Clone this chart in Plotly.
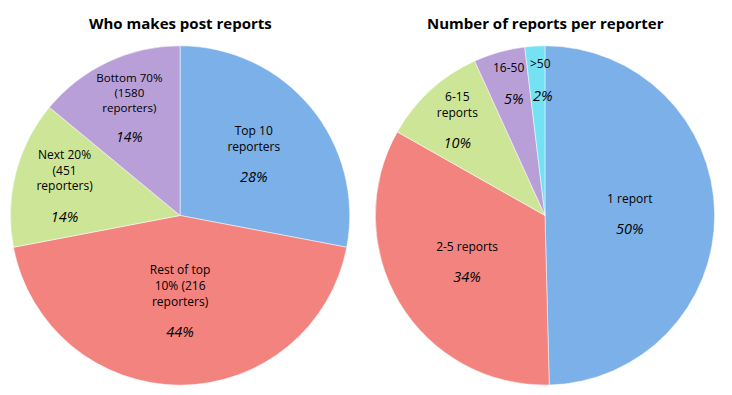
import plotly.graph_objects as go

# Left pie: who makes post reports
left_labels = ["Top 10<br>reporters", "Rest of top<br>10% (216<br>reporters)",
               "Next 20%<br>(451<br>reporters)", "Bottom 70%<br>(1580<br>reporters)"]
left_values = [28, 44, 14, 14]
left_pct = ["28%", "44%", "14%", "14%"]
left_colors = ["#7cb0e8", "#f2837f", "#cde597", "#b99fd7"]

# Right pie: number of reports per reporter
right_labels = ["1 report", "2-5 reports", "6-15<br>reports", "16-50", ">50"]
right_values = [49.6, 33.6, 10.0, 4.9, 1.9]
right_pct = ["50%", "34%", "10%", "5%", "2%"]
right_colors = ["#7cb0e8", "#f2837f", "#cde597", "#b99fd7", "#74e2f2"]
# slices too thin for Plotly's inside text: labelled with annotations instead
right_small = [False, False, False, True, True]

titles = ["Who makes post reports", "Number of reports per reporter"]

label_font = "Open Sans, DejaVu Sans, sans-serif"
pct_style = "font-size:14.5px"


def make_text(labels, pcts):
    return [f"{l}<br><br><i><span style='{pct_style}'>{p}</span></i>" for l, p in zip(labels, pcts)]


fig = go.Figure()
fig.add_trace(go.Pie(
    labels=left_labels, values=left_values, text=make_text(left_labels, left_pct),
    texttemplate="%{text}", textposition="inside", insidetextorientation="horizontal",
    sort=False, direction="clockwise", rotation=0,
    marker=dict(colors=left_colors, line=dict(color="white", width=0.5)),
    textfont=dict(family=label_font, size=12, color="black"),
    domain=dict(x=[0.012, 0.480], y=[0.025, 0.884]),
    showlegend=False, hoverinfo="label+percent",
))
right_text = make_text(right_labels, right_pct)
fig.add_trace(go.Pie(
    labels=right_labels, values=right_values,
    text=["" if s else t for s, t in zip(right_small, right_text)],
    texttemplate="%{text}",
    textposition=["none" if s else "inside" for s in right_small],
    insidetextorientation="horizontal",
    sort=False, direction="clockwise", rotation=0,
    marker=dict(colors=right_colors, line=dict(color="white", width=0.5)),
    textfont=dict(family=label_font, size=12, color="black"),
    domain=dict(x=[0.512, 0.977], y=[0.025, 0.884]),
    showlegend=False, hoverinfo="label+percent",
))

# labels for the two thin slices (16-50, >50), placed as in the reference
small_pos = {"16-50": [(508, 67), (514, 98)], ">50": [(540, 64), (543, 96)]}
for lab, pct in zip(right_labels, right_pct):
    if lab in small_pos:
        (lx, ly), (px, py) = small_pos[lab]
        fig.add_annotation(text=lab, x=lx / 732, y=1 - ly / 395, xref="paper", yref="paper",
                           xanchor="center", yanchor="middle", showarrow=False,
                           font=dict(family=label_font, size=12, color="black"))
        fig.add_annotation(text=f"<i>{pct}</i>", x=px / 732, y=1 - py / 395, xref="paper", yref="paper",
                           xanchor="center", yanchor="middle", showarrow=False,
                           font=dict(family=label_font, size=14.5, color="black"))

for xc, t in zip([180 / 732, 545 / 732], titles):
    fig.add_annotation(text=f"<b>{t}</b>", x=xc, y=1 - 23 / 395, xref="paper", yref="paper",
                       xanchor="center", yanchor="middle", showarrow=False,
                       font=dict(family=label_font, size=15, color="black"))

fig.update_layout(width=732, height=395, margin=dict(l=0, r=0, t=0, b=0),
                  paper_bgcolor="white", plot_bgcolor="white")
fig.write_html("out.html", config={"displayModeBar": False},
               post_script="document.body.style.margin='0';")
